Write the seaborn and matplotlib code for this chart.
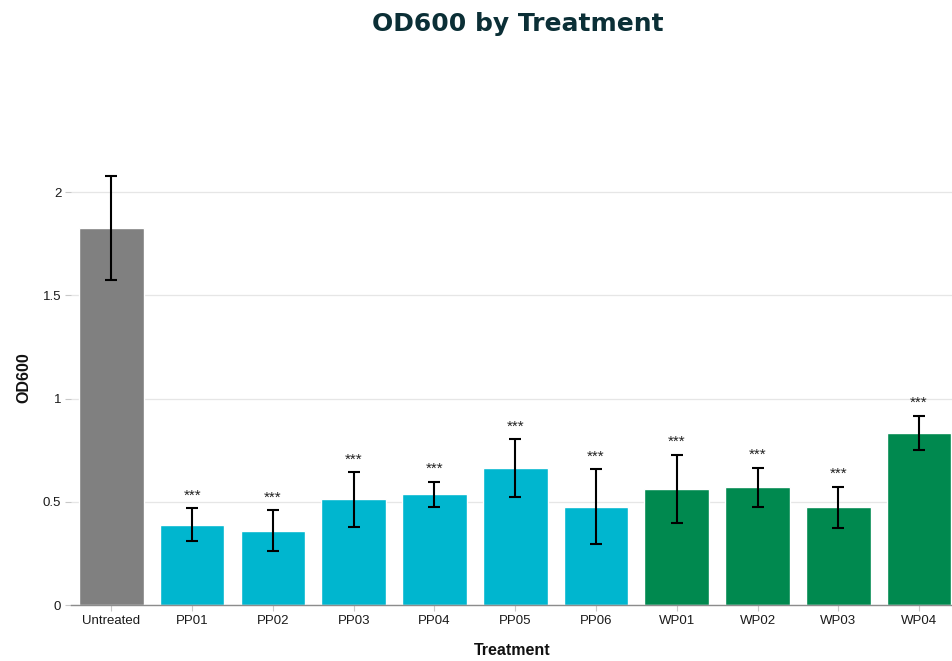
import matplotlib
matplotlib.use("Agg")
import matplotlib.pyplot as plt
import numpy as np
import pandas as pd
import seaborn as sns


# ----- Data -----
treatments = ["Untreated", "PP01", "PP02", "PP03", "PP04", "PP05",
              "PP06", "WP01", "WP02", "WP03", "WP04"]
groups = ["control", "PP", "PP", "PP", "PP", "PP",
          "PP", "WP", "WP", "WP", "WP"]
od600_mean = [1.826, 0.389, 0.360, 0.512, 0.537, 0.663,
              0.476, 0.563, 0.570, 0.473, 0.833]
od600_err = [0.252, 0.081, 0.100, 0.133, 0.061, 0.141,
             0.181, 0.165, 0.095, 0.101, 0.084]
significance = ["", "***", "***", "***", "***", "***",
                "***", "***", "***", "***", "***"]

group_colors = {"control": "#808080", "PP": "#00b6cf", "WP": "#00894f"}
title_color = "#0b2f36"


def plot_od600_by_treatment(out_path: str = "out.png") -> None:
    """
    Bar chart of mean OD600 per treatment with error bars and
    significance stars above each treated group.
    """
    df = pd.DataFrame({
        "Treatment": treatments,
        "group": groups,
        "OD600": od600_mean,
        "err": od600_err,
        "sig": significance,
    })

    sns.set_theme(style="whitegrid")
    plt.rcParams["font.family"] = ["Liberation Sans", "DejaVu Sans"]

    fig = plt.figure(figsize=(9.53, 6.61), dpi=100)
    ax = fig.add_axes([0.0745, 0.0847, 0.9255, 0.6870])

    sns.barplot(
        data=df,
        x="Treatment",
        y="OD600",
        hue="group",
        palette=group_colors,
        saturation=1,
        dodge=False,
        width=0.8,
        errorbar=None,
        legend=False,
        ax=ax,
    )

    xpos = np.arange(len(df))
    ax.errorbar(
        xpos, df["OD600"], yerr=df["err"],
        fmt="none", ecolor="black", elinewidth=1.5,
        capsize=4, capthick=1.5, zorder=5,
    )

    for x, top, label in zip(xpos, df["OD600"] + df["err"], df["sig"]):
        if label:
            ax.annotate(
                label, (x, top), xytext=(0, 4), textcoords="offset points",
                ha="center", va="bottom", fontsize=11, color="#222222",
            )

    ax.set_ylim(0, 2.2)
    ax.set_xlim(-0.5, 10.42)
    ax.set_yticks([0, 0.5, 1, 1.5, 2])
    ax.set_yticklabels(["0", "0.5", "1", "1.5", "2"])

    ax.grid(axis="y", color="#e6e6e6", linewidth=0.9)
    ax.grid(axis="x", visible=False)
    ax.set_axisbelow(True)

    for side in ["top", "right", "left"]:
        ax.spines[side].set_visible(False)
    ax.spines["bottom"].set_color("#8c8c8c")
    ax.spines["bottom"].set_linewidth(1.0)

    ax.tick_params(axis="both", which="both", length=4, width=0.8,
                   color="#c8c8c8", labelsize=9.5, labelcolor="#1a1a1a",
                   bottom=True, left=True, pad=3)

    ax.set_xlabel("Treatment", fontsize=11.5, fontweight="bold",
                  color="#111111", labelpad=12)
    ax.set_ylabel("OD600", fontsize=11.5, fontweight="bold",
                  color="#111111", labelpad=8)

    fig.suptitle("OD600 by Treatment", x=0.543, y=0.982, fontsize=18,
                 fontweight="heavy", color=title_color,
                 family=["DejaVu Sans"])

    fig.savefig(out_path, dpi=100)
    plt.close(fig)


if __name__ == "__main__":
    plot_od600_by_treatment("out.png")
